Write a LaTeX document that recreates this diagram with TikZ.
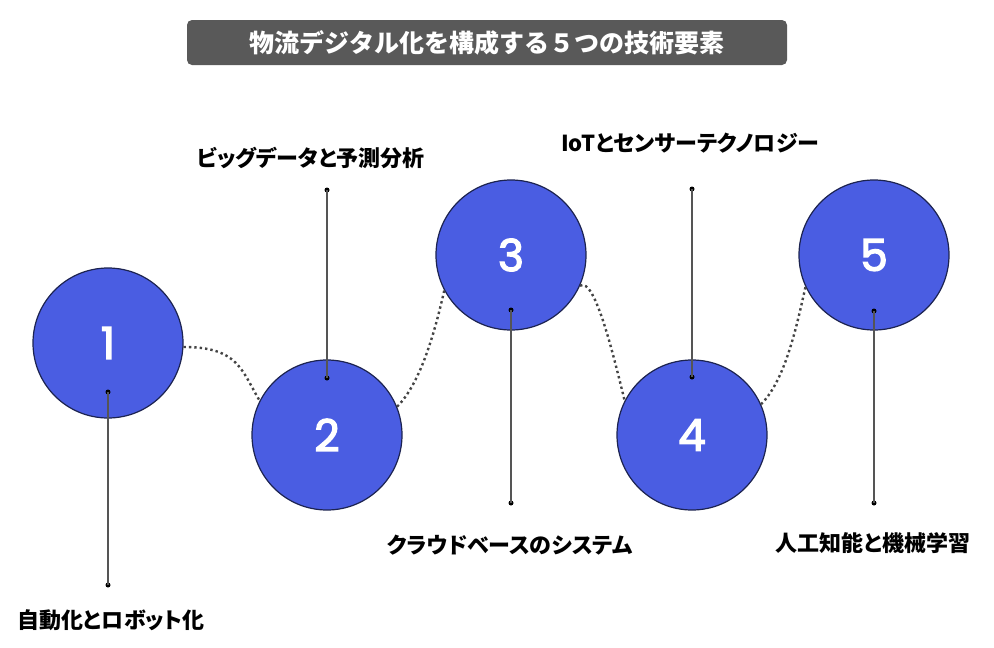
\documentclass[tikz,border=0pt]{standalone}
\usepackage{fontspec}
\setmainfont{Poppins}
\newfontfamily\numfont[FakeBold=3]{Poppins}
\newfontfamily\jpfont[RawFeature=+palt]{Noto Sans CJK JP}
\newfontfamily\jptitlefont{Noto Sans CJK JP}
\usepackage{xcolor}
\definecolor{cCircle}{HTML}{4A5DE2}
\definecolor{cEdge}{HTML}{1C2350}
\definecolor{cTitle}{HTML}{595959}
\definecolor{cStem}{HTML}{555555}
\definecolor{cDots}{HTML}{444444}
\usetikzlibrary{positioning,calc}
\tikzset{
  node-step/.style={circle,draw=cEdge,line width=1.2pt,fill=cCircle,
    minimum size=150pt,inner sep=0pt,text=white,
    font=\numfont\fontsize{44}{44}\selectfont},
  node-label/.style={inner sep=0pt,font=\jpfont\bfseries\fontsize{22}{22}\selectfont},
  node-title/.style={fill=cTitle,rounded corners=5pt,minimum width=600pt,
    minimum height=45pt,inner sep=0pt,text=white,
    font=\jptitlefont\bfseries\fontsize{25}{25}\selectfont},
  node-dot/.style={circle,fill=black,inner sep=0pt,minimum size=5pt},
  stem/.style={line width=1.6pt,draw=cStem},
  link/.style={line width=2.4pt,draw=cDots,dash pattern=on 2.4pt off 3pt},
}

\begin{document}
\begin{tikzpicture}[x=1pt,y=-1pt]
  \useasboundingbox (0,0) rectangle (994,648);
  \node[node-title] (title) at (487,42.5) {物流デジタル化を構成する５つの技術要素};

  % circles
  \foreach \n/\x/\y in {1/108/343, 2/327/435, 3/511/255, 4/692/435, 5/874/255} {
    \node[node-step] (c\n) at (\x,\y) {\n};
  }

  % dotted links between the circles
  \draw[link] (c1.-3) .. controls +(55,0) and +(-18,-30) .. (c2.153);
  \draw[link] (c2.22) .. controls +(25,-25) and +(-8,35) .. (c3.208);
  \draw[link] (c3.336) .. controls +(15,-10) and +(-10,-40) .. (c4.153);
  \draw[link] (c4.24) .. controls +(25,-25) and +(-8,35) .. (c5.205);

  % stems with end dots
  \node[node-dot] (d1a) at (108,392) {};
  \node[node-dot] (d1b) at (108,585) {};
  \node[node-dot] (d2a) at (327,378) {};
  \node[node-dot] (d2b) at (327,190) {};
  \node[node-dot] (d3a) at (511,310) {};
  \node[node-dot] (d3b) at (511,503) {};
  \node[node-dot] (d4a) at (692,377) {};
  \node[node-dot] (d4b) at (692,189) {};
  \node[node-dot] (d5a) at (874,311) {};
  \node[node-dot] (d5b) at (874,503) {};
  \foreach \n in {1,...,5} {
    \draw[stem] (d\n a.center) -- (d\n b.center);
  }

  % labels
  \node[node-label] (l1) at (111,620) {自動化とロボット化};
  \node[node-label] (l2) at (311,158) {ビッグデータと予測分析};
  \node[node-label] (l3) at (510,545) {クラウドベースのシステム};
  \node[node-label] (l4) at (690,143) {IoTとセンサーテクノロジー};
  \node[node-label] (l5) at (873,543) {人工知能と機械学習};
\end{tikzpicture}
\end{document}
